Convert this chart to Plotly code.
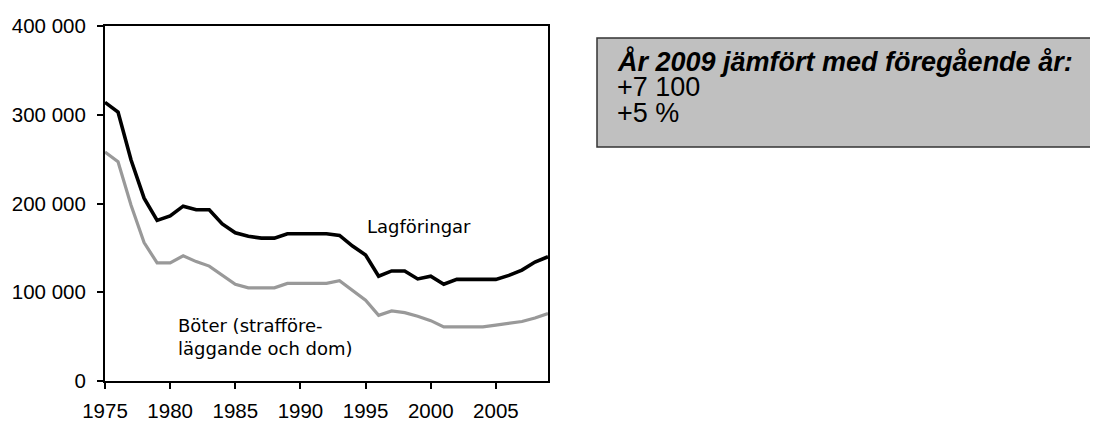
import plotly.graph_objects as go

years = list(range(1975, 2010))
lagforingar = [314000, 303000, 249000, 206000, 181000, 186000, 197000, 193000, 193000, 177000,
               167000, 163000, 161000, 161000, 166000, 166000, 166000, 166000, 164000, 152000,
               142000, 118000, 124000, 124000, 115000, 118000, 109000, 114500, 114500, 114500,
               114500, 119000, 125000, 134000, 140000]
boter = [258000, 247000, 198000, 156000, 133000, 133000, 141000, 134500, 129500, 119000,
         109000, 105000, 105000, 105000, 110000, 110000, 110000, 110000, 113000, 102000,
         91000, 74000, 79000, 77000, 73000, 68000, 61000, 61000, 61000, 61000,
         63000, 65000, 67000, 71000, 76000]
xticks = [1975, 1980, 1985, 1990, 1995, 2000, 2005]
yticks = [0, 100000, 200000, 300000, 400000]
ytick_labels = ["0", "100 000", "200 000", "300 000", "400 000"]
label_lag = "Lagföringar"
label_bot = "Böter (strafföre-<br>läggande och dom)"
box_lines = ["<b><i>År 2009 jämfört med föregående år:</i></b>", "+7 100", "+5 %"]

# the page body adds an 8 px offset, so the figure is drawn 8 px smaller
OFF = 8
W, H = 1098 - OFF, 422 - OFF
L, R, T, B = 105, 548, 26, 381  # target window pixels of the plot area

def px(x):
    return (x - L) / (R - L)

def py(y):
    return (B - y) / (B - T)

fig = go.Figure()
fig.add_trace(go.Scatter(x=years, y=boter, mode="lines",
                         line=dict(color="#999999", width=3.2), showlegend=False))
fig.add_trace(go.Scatter(x=years, y=lagforingar, mode="lines",
                         line=dict(color="#000000", width=3.6), showlegend=False))

fig.update_layout(
    width=W, height=H,
    margin=dict(l=L - OFF, r=1098 - R, t=T - OFF, b=422 - B),
    plot_bgcolor="white", paper_bgcolor="white",
    font=dict(family="Liberation Sans, Arial", size=20.5, color="#000000"),
    xaxis=dict(range=[1975, 2009], tickvals=xticks, ticks="outside", ticklen=6,
               tickwidth=1.5, tickcolor="black", showline=True, linecolor="black",
               linewidth=2, mirror=True, showgrid=False, zeroline=False,
               automargin=False, ticklabelstandoff=4),
    yaxis=dict(range=[0, 400000], tickvals=yticks, ticktext=ytick_labels,
               ticks="outside", ticklen=6, tickwidth=1.5, tickcolor="black",
               showline=True, linecolor="black", linewidth=2, mirror=True,
               showgrid=False, zeroline=False, automargin=False, ticklabelstandoff=7),
)

fig.add_annotation(x=px(419), y=py(226), xref="paper", yref="paper", text=label_lag,
                   showarrow=False, xanchor="center", yanchor="middle",
                   font=dict(family="DejaVu Sans", size=18, color="#000000"))
fig.add_annotation(x=px(176), y=py(337), xref="paper", yref="paper", text=label_bot,
                   showarrow=False, xanchor="left", yanchor="middle", align="left",
                   font=dict(family="DejaVu Sans", size=18, color="#000000"))

fig.add_shape(type="rect", xref="paper", yref="paper",
              x0=px(597), x1=px(1093), y0=py(147), y1=py(38),
              fillcolor="#C0C0C0", line=dict(color="#333333", width=1.5), layer="above")
for i, (t, yc) in enumerate(zip(box_lines, [62, 87, 113])):
    fig.add_annotation(x=px(615), y=py(yc), xref="paper", yref="paper", text=t,
                       showarrow=False, xanchor="left", yanchor="middle", align="left",
                       font=dict(family="Liberation Sans, Arial", size=27, color="#000000"))

fig.write_html("out.html")
